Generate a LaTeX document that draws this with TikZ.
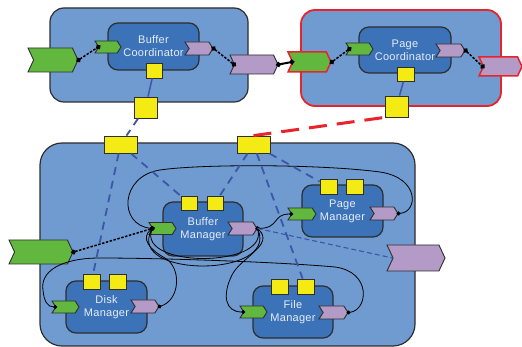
\documentclass[tikz,border=0pt]{standalone}
\usepackage{fontspec}
\setmainfont{Liberation Sans}
\newfontfamily\lblfont[LetterSpace=2.5]{Liberation Sans}
\usetikzlibrary{shapes.symbols,arrows.meta,positioning}

\definecolor{outerblue}{HTML}{6F9BD1}
\definecolor{innerblue}{HTML}{3B72B8}
\definecolor{portgreen}{HTML}{62B83F}
\definecolor{portpurple}{HTML}{B49AC6}
\definecolor{ctrlyellow}{HTML}{F5EB14}
\definecolor{linkblue}{HTML}{3D56A6}
\definecolor{hotred}{HTML}{E8232B}
\definecolor{edgegrey}{HTML}{2E2E2E}
\definecolor{labelwhite}{HTML}{E6EDF7}

\begin{document}
\begin{tikzpicture}[x=1pt,y=-1pt,
  container/.style={draw=edgegrey,fill=outerblue,line width=1.2pt,rounded corners=14pt,inner sep=0pt},
  component/.style={draw=edgegrey,fill=innerblue,line width=1.2pt,rounded corners=10pt,inner sep=0pt,
    text=labelwhite,font=\lblfont\fontsize{11pt}{13pt}\selectfont,align=center},
  port/.style={signal,signal from=west,signal to=east,draw=edgegrey,line width=0.9pt,inner sep=0pt},
  inport/.style={port,fill=portgreen,signal pointer angle=115,minimum width=27pt,minimum height=12pt},
  outport/.style={port,fill=portpurple,signal pointer angle=115,minimum width=29pt,minimum height=13pt},
  ctrl/.style={draw=edgegrey,fill=ctrlyellow,line width=0.8pt,inner sep=0pt,minimum width=16pt,minimum height=15pt},
  wire/.style={densely dashed,line width=1.5pt,{Circle[length=5pt]}-{Circle[length=5pt]},shorten <=-2.5pt,shorten >=-2.5pt},
  curve/.style={line width=0.8pt,{Circle[length=4pt]}-{Circle[length=4pt]},shorten <=-2pt,shorten >=-2pt},
  ctrllink/.style={draw=linkblue,line width=1.8pt,dash pattern=on 8pt off 6pt}]
  \useasboundingbox (0,0) rectangle (522,347);

  % containers
  \node[container,minimum width=198pt,minimum height=94pt] (bufcobox) at (149,55) {};
  \node[container,draw=hotred,line width=1.8pt,minimum width=200pt,minimum height=96pt] (pagecobox) at (401,58) {};
  \node[container,rounded corners=22pt,minimum width=375pt,minimum height=203pt] (mgrbox) at (227.5,244.5) {};

  % coordinators
  \node[component,minimum width=91pt,minimum height=47pt] (bufco) at (153.5,46.5) {Buffer\\Coordinator};
  \node[component,minimum width=92pt,minimum height=46pt] (pageco) at (405,50) {Page\\Coordinator};

  \node[inport,minimum width=50pt,minimum height=24pt,signal pointer angle=130] (bufco-inx) at (53,60) {};
  \node[inport,minimum width=26pt] (bufco-in) at (108,47) {};
  \node[outport,minimum width=28pt] (bufco-out) at (199,48.5) {};
  \node[outport,minimum width=48pt,minimum height=19pt,signal pointer angle=130] (bufco-outx) at (254,64.5) {};

  \node[inport,draw=hotred,line width=1.5pt,minimum width=43pt,minimum height=20pt,signal pointer angle=130] (pageco-inx) at (309.5,62) {};
  \node[inport] (pageco-in) at (359.5,49) {};
  \node[outport] (pageco-out) at (450.5,50.5) {};
  \node[outport,draw=hotred,line width=1.5pt,minimum width=43pt,minimum height=19pt,signal pointer angle=130] (pageco-outx) at (500.5,66.5) {};

  \node[ctrl] (bufco-ctl) at (154,70.5) {};
  \node[ctrl,minimum width=23pt,minimum height=21pt] (bufco-port) at (145.5,107.5) {};
  \node[ctrl,minimum width=17pt,minimum height=14pt] (pageco-ctl) at (405.5,74) {};
  \node[ctrl,minimum width=23pt,minimum height=21pt] (pageco-port) at (396.5,106.5) {};

  % managers
  \node[ctrl,minimum width=33pt,minimum height=17pt] (mgr-ctla) at (120.5,144.5) {};
  \node[ctrl,minimum width=33pt,minimum height=17pt] (mgr-ctlb) at (253.5,144.5) {};

  \node[component,minimum width=80pt,minimum height=54pt] (bufmgr) at (203,229) {Buffer\\Manager};
  \node[component,minimum width=81pt,minimum height=52pt] (pagemgr) at (342.5,211) {Page\\Manager};
  \node[component,minimum width=81pt,minimum height=52pt] (diskmgr) at (106.5,307) {Disk\\Manager};
  \node[component,minimum width=80pt,minimum height=52pt] (filemgr) at (293,312) {File\\Manager};

  \node[ctrl,minimum height=14pt] (bufmgr-ctla) at (189,203) {};
  \node[ctrl,minimum height=14pt] (bufmgr-ctlb) at (215,203) {};
  \node[ctrl,minimum width=17pt] (pagemgr-ctla) at (328.5,186.5) {};
  \node[ctrl,minimum width=17pt] (pagemgr-ctlb) at (354.5,186.5) {};
  \node[ctrl,minimum width=17pt] (diskmgr-ctla) at (91.5,281.5) {};
  \node[ctrl,minimum width=17pt] (diskmgr-ctlb) at (118,281.5) {};
  \node[ctrl,minimum width=17pt] (filemgr-ctla) at (279.5,286.5) {};
  \node[ctrl,minimum width=17pt] (filemgr-ctlb) at (305.5,286.5) {};

  \node[inport,minimum width=64pt,minimum height=24pt,signal pointer angle=130] (mgr-inx) at (41,252) {};
  \node[outport,minimum width=58pt,minimum height=26pt,signal pointer angle=130] (mgr-outx) at (416,258) {};
  \node[inport] (bufmgr-in) at (162.5,228.5) {};
  \node[outport] (bufmgr-out) at (242.5,228.5) {};
  \node[inport,minimum width=28pt] (pagemgr-in) at (302,214) {};
  \node[outport,minimum width=28pt] (pagemgr-out) at (384,213.5) {};
  \node[inport] (diskmgr-in) at (65.5,307) {};
  \node[outport,minimum width=28pt] (diskmgr-out) at (145,306.5) {};
  \node[inport] (filemgr-in) at (253.5,312) {};
  \node[outport] (filemgr-out) at (333.5,312.5) {};

  % data wires
  \draw[wire,dash pattern=on 2.5pt off 1.5pt] (bufco-inx.east) -- (bufco-in.west);
  \draw[wire,dash pattern=on 2.5pt off 1.5pt] (bufco-out.east) -- (bufco-outx.west);
  \draw[wire,dash pattern=on 2.5pt off 1.5pt] (pageco-inx.east) -- (pageco-in.west);
  \draw[wire,dash pattern=on 2.5pt off 1.5pt] (pageco-out.east) -- (pageco-outx.west);
  \draw[wire,solid,line width=2pt] (bufco-outx.east) -- (pageco-inx.west);
  \draw[wire,dash pattern=on 2.5pt off 1.5pt] (mgr-inx.east) -- (bufmgr-in.west);

  \draw[curve] (pagemgr-out.east) .. controls (418,212) and (420,178) .. (380,172)
    .. controls (320,164) and (200,164) .. (160,170)
    .. controls (120,176) and (118,225) .. (bufmgr-in.west);
  \draw[curve] (bufmgr-out.east) .. controls (280,228) and (272,214) .. (pagemgr-in.west);
  \draw[curve] (bufmgr-in.west) .. controls (138,268) and (268,268) .. (bufmgr-out.east);
  \draw[curve] (bufmgr-in.west) .. controls (126,278) and (278,278) .. (bufmgr-out.east);
  \draw[curve] (filemgr-out.east) .. controls (368,310) and (372,272) .. (335,267)
    .. controls (280,262) and (160,258) .. (100,258)
    .. controls (60,258) and (40,272) .. (43,290)
    .. controls (44,302) and (48,307) .. (diskmgr-in.west);
  \draw[curve] (diskmgr-out.east) .. controls (180,300) and (182,268) .. (165,258)
    .. controls (150,250) and (140,238) .. (bufmgr-in.west);
  \draw[curve] (bufmgr-out.east) .. controls (275,245) and (240,258) .. (232,275)
    .. controls (222,295) and (225,312) .. (filemgr-in.west);

  % control links
  \draw[linkblue,line width=1.5pt] (bufco-ctl) -- (bufco-port);
  \draw[linkblue,line width=1.5pt] (pageco-ctl) -- (pageco-port);
  \draw[ctrllink] (bufco-port) -- (mgr-ctla);
  \draw[hotred,line width=3pt,dash pattern=on 18pt off 10pt] (mgr-ctlb.north) -- (pageco-port.south west);
  \draw[ctrllink] (mgr-ctla) -- (bufmgr-ctla);
  \draw[ctrllink] (mgr-ctla) -- (diskmgr-ctla);
  \draw[ctrllink] (mgr-ctlb) -- (bufmgr-ctlb);
  \draw[ctrllink] (mgr-ctlb) -- (pagemgr-ctla);
  \draw[ctrllink] (mgr-ctlb) -- (filemgr-ctlb);
  \draw[linkblue,line width=1.1pt,dash pattern=on 5pt off 3pt] (bufmgr-out.east) -- (mgr-outx.west);
\end{tikzpicture}
\end{document}
